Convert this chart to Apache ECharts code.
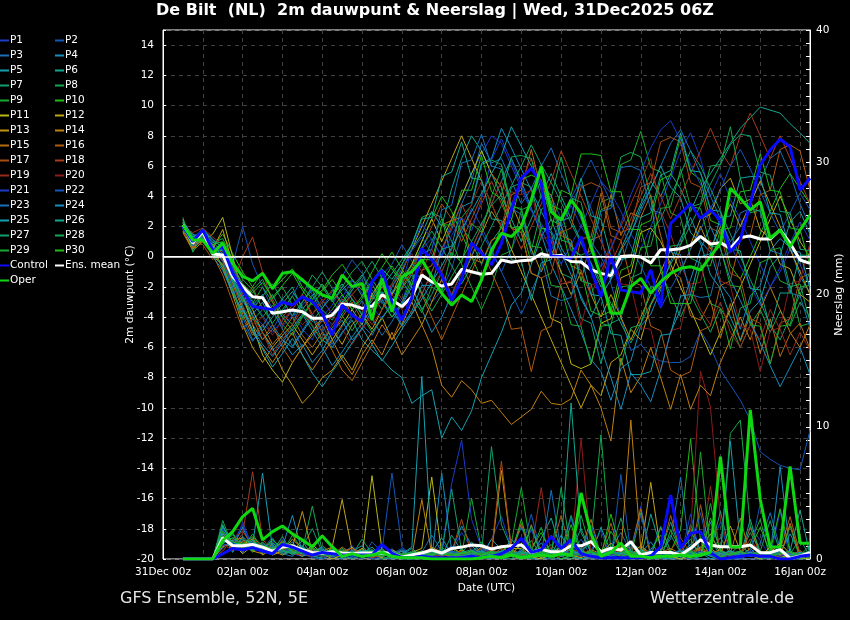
<!DOCTYPE html>
<html><head><meta charset="utf-8">
<script src="https://cdn.jsdelivr.net/npm/echarts@6/dist/echarts.min.js"></script>
<style>html,body{margin:0;padding:0;background:#000;}#chart{width:850px;height:620px;}</style>
</head><body><div id="chart"></div>
<script>
const titleText = 'De Bilt  (NL)  2m dauwpunt & Neerslag | Wed, 31Dec2025 06Z';
const footLeft = 'GFS Ensemble, 52N, 5E';
const footRight = 'Wetterzentrale.de';
const xTickLabels = ['31Dec 00z','02Jan 00z','04Jan 00z','06Jan 00z','08Jan 00z','10Jan 00z','12Jan 00z','14Jan 00z','16Jan 00z'];
const firstHour = 12, stepHours = 6;
const memberNames = ['P1','P2','P3','P4','P5','P6','P7','P8','P9','P10','P11','P12','P13','P14','P15','P16','P17','P18','P19','P20','P21','P22','P23','P24','P25','P26','P27','P28','P29','P30'];
const memberColors = ['#1a3cc8','#1456b8','#1a70b8','#168ec0','#14a0b0','#10a890','#10a070','#12a850','#18aa30','#20bb18',
 '#b8b812','#c0a412','#c09410','#c08010','#b86c10','#b05c10','#a84c14','#a83c1c','#982c1c','#8c1c1c',
 '#1a3cc8','#1456b8','#1a70b8','#168ec0','#14a0b0','#10a890','#10a070','#12a850','#18aa30','#20bb18'];

// ---- 2m dew point (°C), 6-hourly from 31Dec 12Z ----
const meanDew = [2.1,0.9,1.66,0.18,0.11,-1.32,-1.98,-2.65,-2.71,-3.74,-3.64,-3.53,-3.64,-4.07,-4.07,-3.86,-3.13,-3.2,-3.42,-3.27,-2.53,-2.86,-3.3,-2.65,-1.21,-1.65,-1.94,-1.8,-0.83,-0.99,-1.16,
 -1.1,-0.22,-0.37,-0.26,-0.22,0.2,0.02,0.09,-0.31,-0.35,-0.86,-1.1,-1.25,0.02,0.06,-0.02,-0.42,0.46,0.46,0.53,0.75,1.34,0.84,0.93,0.55,1.28,1.37,1.17,1.17,1.77,0.89,-0.22,-0.44];
const controlDew = [2.0,1.0,1.77,0.4,0.66,-1.1,-2.2,-3.3,-3.4,-3.5,-3.0,-3.2,-2.65,-2.97,-3.74,-5.2,-3.2,-3.86,-4.3,-1.65,-0.9,-3.0,-4.2,-2.7,0.55,-0.2,-1.2,-2.9,-1.5,0.9,0.25,
 -0.54,0.89,3.09,5.19,5.85,4.86,0.02,0.02,-0.1,1.33,-0.86,-2.65,0.11,-2.2,-2.31,-2.42,-0.86,-3.31,2.2,2.86,3.52,2.53,3.09,2.43,0.33,1.11,3.52,6.07,7.06,7.77,7.28,4.41,5.19];
const operDew = [2.1,1.1,1.1,0.23,0.9,-0.43,-1.3,-1.6,-1.1,-2.1,-1.1,-1.0,-1.54,-2.09,-2.53,-2.75,-1.21,-1.98,-1.76,-4.19,-1.43,-3.64,-1.32,-0.99,-0.2,-1.32,-2.42,-3.2,-2.53,-2.97,-1.54,
 0.44,1.55,1.33,2.0,3.75,5.96,2.97,2.43,3.75,2.87,0.66,-1.32,-3.74,-3.74,-1.98,-1.43,-2.42,-1.65,-1.1,-0.77,-0.66,-0.88,0.02,0.89,4.53,3.86,3.09,3.64,1.22,1.77,0.66,1.77,2.76];
const p01Dew = [2.2,1.5,1.3,0.6,0.2,-1.5,-3.0,-3.8, -4.5,-5.0,-4.2,-3.6,-4.8,-5.5,-4.0,-3.2, -2.0,-2.8,-3.5,-2.5,-1.5,-2.2,-3.0,-1.0, 0.5,1.2,0.0,2.5,4.0,5.5,6.8,8.0, 7.5,6.0,4.5,3.0,2.2,1.0,-0.5,0.8, 2.0,3.5,5.0,4.2,3.0,1.5,0.5,2.0, 3.5,5.2,7.0,8.2,6.5,4.0,5.5,3.8, 2.5,1.0,-0.5,-2.0,-1.0,0.5,-0.5,-2.0];
const p02Dew = [2.0,1.0,1.8,1.2,0.5,-0.5,2.0,-0.5, -2.0,-3.5,-2.8,-4.0,-3.2,-2.5,-3.8,-4.5, -3.6,-2.2,-1.5,-2.8,-1.2,-0.5,0.8,-0.3, -1.8,-3.0,-2.2,-0.8,1.5,3.2,2.0,0.5, -1.0,0.5,2.0,3.8,5.0,4.0,2.5,3.5, 4.8,3.2,1.5,-1.8,-4.0,-6.2,-5.8,-6.6, -6.9,-7.0,-7.0,-6.6,-4.9,-6.0,-7.5,-8.5, -9.5,-10.8,-12.9,-13.4,-13.8,-14.0,-14.1,-11.5];
const p03Dew = [2.4,1.2,1.0,0.2,-0.5,-2.0,-4.0,-5.5, -5.0,-6.2,-5.5,-4.8,-6.0,-5.2,-4.5,-5.8, -4.6,-3.8,-4.5,-5.2,-4.0,-3.2,-4.5,-3.8, -2.5,-1.0,0.5,1.8,3.5,5.0,7.5,6.2, 6.5,5.0,3.5,4.5,6.0,7.2,5.5,4.0, 2.5,1.0,0.0,-1.5,-0.5,1.5,3.0,4.5, 6.0,7.5,8.4,7.0,5.5,4.0,2.5,1.0, 2.0,3.5,5.0,6.5,7.0,5.5,3.5,2.0];
const p04Dew = [1.8,0.8,1.5,0.8,0.0,-1.2,-2.5,-3.8, -3.0,-4.5,-5.5,-6.5,-5.8,-7.0,-6.2,-5.0, -4.2,-5.5,-4.8,-3.5,-2.8,-4.0,-3.2,-2.0, -3.5,-5.0,-4.0,-2.5,-1.0,0.5,2.0,3.5, 5.0,6.5,5.0,3.2,1.5,-0.5,-2.0,-3.5, -5.0,-6.8,-7.6,-9.5,-7.4,-6.9,-4.6,-3.8, -2.2,-0.3,1.2,2.6,1.0,0.3,-1.8,-2.7, -4.8,-2.6,-1.9,0.4,1.2,0.6,-1.3,-2.4];
const p05Dew = [2.1,1.0,1.6,0.5,-0.8,-2.5,-3.5,-4.5, -5.5,-4.8,-5.5,-6.0,-5.0,-4.0,-5.5,-6.0, -5.0,-4.2,-5.5,-6.2,-6.8,-7.5,-8.0,-9.7, -9.2,-8.8,-12.0,-10.6,-11.5,-10.2,-8.0,-6.5, -5.0,-3.2,-2.4,-0.5,1.3,2.5,0.6,-0.5, -2.8,-4.0,-2.6,-1.5,0.4,1.5,3.3,4.5, 6.0,4.6,3.9,1.6,0.9,-1.2,-2.1,-4.0, -5.5,-3.6,-2.9,-0.7,0.1,2.3,3.0,1.5];
const p06Dew = [2.3,1.4,1.2,0.4,0.8,-0.8,-2.0,-3.2, -2.5,-3.8,-2.8,-2.0,-3.5,-2.6,-1.8,-2.9, -2.2,-1.5,-2.6,-1.8,-0.8,-1.5,-0.5,0.5, 1.5,3.0,2.0,4.5,6.5,8.0,7.0,5.5, 4.0,2.5,1.0,2.5,4.0,5.5,4.0,2.5, 1.0,-0.5,-2.0,-1.0,0.5,2.0,3.5,5.0, 4.0,5.5,4.5,3.0,4.5,5.5,6.5,7.5, 8.5,9.2,9.9,9.7,9.5,8.8,8.2,7.5];
const p07Dew = [1.9,0.6,1.4,1.0,0.2,-1.5,-2.8,-4.2, -3.5,-2.5,-3.8,-4.5,-3.0,-2.2,-3.5,-4.2, -3.0,-2.0,-1.2,-2.5,-3.5,-2.0,-1.0,-2.0, -3.5,-2.5,-1.0,0.5,2.0,1.0,-0.5,1.0, 1.9,4.6,4.9,4.6,1.9,1.6,-1.1,-1.4, -4.1,-4.4,-7.1,-4.4,-4.1,-1.4,-1.1,1.6, 2.5,4.0,5.5,7.0,6.0,4.5,3.0,1.5, 0.0,-1.5,-3.0,-4.5,-5.5,-4.0,-2.5,-1.0];
const p08Dew = [2.0,1.1,1.9,0.9,1.2,-0.2,-1.5,-2.2, -1.5,-2.8,-2.0,-3.2,-2.5,-1.2,-2.0,-3.0, -2.0,-1.0,-0.3,-1.5,-2.5,-1.8,-0.5,0.8, 2.6,2.9,2.6,-0.1,2.6,3.4,6.1,6.4, 6.1,3.4,3.1,0.4,3.1,3.9,6.6,3.9, 3.6,0.9,3.6,3.9,6.6,6.9,6.6,3.9, -1.0,-2.5,-4.0,-2.5,-3.8,-5.0,-3.4,-4.5, -6.0,-4.5,-3.5,-5.0,-3.6,-4.6,-3.0,-4.0];
const p09Dew = [2.2,1.3,1.7,0.3,0.5,-1.0,-2.0,-3.0, -4.0,-3.2,-4.5,-5.2,-4.0,-3.0,-4.2,-3.5, -2.5,-3.5,-2.8,-1.8,-3.0,-4.0,-3.0,-1.5, -0.5,1.0,2.5,1.0,-0.5,-2.0,-3.5,-2.0, 0.1,0.4,3.1,3.4,6.1,3.4,3.1,0.4, 0.1,0.4,3.1,3.4,6.1,6.4,8.3,5.9, 5.6,2.9,2.6,-0.1,-0.4,-3.1,-3.4,-6.1, -3.4,-3.1,-0.4,-0.1,-1.6,-1.9,-4.6,-4.4];
const p10Dew = [2.0,0.9,1.5,0.7,1.5,0.2,-1.0,-2.0, -1.0,-2.2,-1.5,-0.8,-2.0,-2.8,-2.2,-1.2, -0.5,-1.5,-2.2,-1.0,0.2,-0.8,-1.8,-0.5, 1.0,2.5,4.0,3.0,1.5,0.0,-1.5,0.0, 2.1,2.4,5.1,5.4,5.1,2.4,2.1,-0.6, -0.9,-3.6,-3.9,-3.6,-0.9,-0.6,2.1,2.4, 5.1,5.4,7.9,5.6,5.1,2.4,2.1,-0.6, -1.5,0.0,1.5,3.0,4.5,5.5,4.5,3.5];
const p11Dew = [2.0,0.8,1.0,1.5,2.6,0.0,-2.5,-4.5, -6.5,-7.5,-8.3,-7.0,-6.0,-5.0,-4.0,-5.5, -4.5,-3.5,-4.5,-2.5,-1.5,-2.5,-1.5,-0.5, 1.0,2.5,1.0,2.5,4.0,5.5,7.0,5.5, 4.6,1.9,1.6,-1.1,-1.4,-4.1,-4.4,-7.1, -7.4,-7.1,-4.4,-4.1,-1.4,-1.1,1.6,1.9, 1.0,-0.5,-2.0,-3.5,-5.0,-6.5,-5.0,-3.5, -2.0,-0.5,1.0,2.5,4.0,2.5,1.0,0.0];
const p12Dew = [1.7,0.5,1.2,0.5,1.8,-0.5,-2.0,-3.5, -5.0,-6.0,-5.2,-4.5,-5.5,-6.5,-5.5,-4.8, -5.8,-4.5,-3.8,-4.8,-3.5,-2.5,-1.0,0.5, 2.0,3.5,5.0,6.5,8.0,6.5,5.0,3.5, 2.0,0.5,-1.0,-2.5,-4.0,-5.5,-7.0,-8.5, -10.0,-8.5,-9.2,-7.0,-6.5,-4.8,-5.5,-3.2, -2.0,-1.2,0.5,0.8,2.5,2.8,4.5,5.2, 3.5,3.8,1.8,1.2,-0.5,-0.8,-2.5,-3.0];
const p13Dew = [2.5,0.6,1.5,0.0,-0.5,-2.5,-4.5,-6.0, -7.0,-6.0,-7.5,-8.5,-9.7,-9.0,-8.0,-7.5, -6.5,-7.5,-6.0,-5.0,-4.0,-5.5,-4.5,-3.0, -4.5,-3.0,-1.5,-3.0,-1.5,0.0,1.5,3.0, 2.0,3.5,2.0,0.5,-1.0,0.5,-1.0,-2.5, -1.0,-2.5,-4.0,-2.5,-4.0,-5.5,-4.0,-2.5, -1.0,0.5,-1.0,0.5,2.0,0.5,2.0,3.5, 2.0,3.5,5.0,3.5,2.0,0.5,-1.0,-2.5];
const p14Dew = [1.6,0.4,1.0,0.3,-0.2,-1.8,-3.5,-5.0, -6.0,-7.0,-6.0,-5.0,-6.5,-7.5,-6.5,-5.5, -6.8,-7.8,-6.5,-5.5,-6.5,-5.0,-6.5,-5.5, -4.5,-6.0,-8.5,-9.3,-8.2,-8.8,-9.7,-9.5, -10.3,-11.1,-10.6,-10.1,-8.9,-9.7,-9.8,-9.4, -7.5,-8.5,-10.0,-12.2,-6.7,-9.0,-7.9,-6.0, -8.0,-10.1,-7.8,-10.1,-8.5,-9.2,-7.0,-5.5, -4.0,-5.5,-3.5,-2.0,-3.5,-5.0,-6.0,-4.5];
const p15Dew = [2.3,0.5,1.4,0.8,-0.8,-2.2,-3.8,-5.2, -4.5,-5.8,-5.0,-4.0,-5.2,-6.0,-5.0,-6.2, -7.5,-8.2,-7.0,-5.8,-4.5,-5.5,-4.0,-3.0, -0.9,-0.6,2.1,2.4,2.6,-0.1,-0.4,1.1, 1.4,4.1,4.4,7.1,4.4,4.1,1.4,1.1, -1.6,1.1,1.4,4.1,1.4,2.9,2.6,4.1, 1.4,-0.9,-1.4,-3.9,-4.2,-2.9,-5.4,-3.1, -5.6,-3.9,-6.4,-4.1,-6.6,-5.1,-4.4,-6.1];
const p16Dew = [1.9,0.7,1.1,0.1,-1.2,-3.0,-4.8,-4.0, -5.5,-4.5,-6.0,-7.0,-6.0,-5.2,-4.2,-5.0, -4.0,-3.0,-4.2,-3.5,-2.5,-3.5,-2.0,-1.0, -2.5,-4.0,-5.5,-4.0,-2.5,-1.0,0.5,-1.0, -2.5,-4.8,-4.7,-7.6,-4.9,-4.6,-1.8,-1.7, 1.2,1.3,4.2,1.4,1.1,-1.6,-1.9,-4.6, -4.9,-7.5,-7.9,-7.6,-4.9,-4.6,-1.9,-1.6, 1.1,1.4,4.1,4.4,7.1,7.4,7.0,4.4];
const p17Dew = [2.1,0.9,0.8,-0.2,0.5,-1.0,-3.0,-2.0, -3.5,-2.8,-4.0,-3.2,-2.5,-3.8,-3.0,-2.2, -3.2,-2.5,-1.8,-2.8,-2.0,-3.0,-1.8,-0.8, 0.5,2.0,3.5,2.5,1.0,2.5,4.0,5.5, 4.6,1.9,1.6,-1.1,-1.4,-1.1,1.6,1.9, 4.6,4.9,4.6,1.9,1.6,1.9,4.6,4.9, 7.6,7.9,7.6,4.9,4.6,1.9,1.6,-1.1, -1.4,-4.1,-4.4,-7.1,-4.4,-4.1,-1.4,-1.1];
const p18Dew = [1.5,1.2,1.6,0.6,-0.3,-1.8,0.0,1.3, -1.0,-3.0,-4.5,-3.5,-2.5,-4.0,-5.0,-3.8, -2.8,-3.8,-4.8,-3.8,-2.8,-1.8,-2.8,-3.8, -2.5,-1.0,0.5,2.0,3.5,2.0,3.5,5.0, 3.5,2.0,0.5,2.0,3.5,5.0,7.0,5.5, 4.0,2.5,1.0,-0.5,1.0,2.5,4.0,5.5, 4.0,2.5,4.0,5.5,7.0,8.5,7.0,6.0, 8.0,9.5,8.0,6.5,8.0,6.5,5.0,3.5];
const p19Dew = [2.0,1.6,1.9,1.3,0.8,-0.5,-2.5,-4.0, -5.0,-6.5,-5.5,-4.5,-3.5,-4.5,-5.5,-4.5, -3.5,-2.5,-3.5,-4.5,-3.5,-2.5,-3.5,-2.5, -1.0,0.5,-1.0,-2.5,-1.0,0.5,2.0,3.5, 5.0,3.5,5.0,6.5,5.0,3.5,2.0,0.5, -1.0,-2.5,-1.0,0.5,2.0,3.5,5.0,6.5, 3.0,1.5,-0.5,-2.0,-3.5,-4.5,-3.0,-5.0, -6.0,-4.5,-5.5,-3.5,-4.8,-6.5,-5.0,-6.2];
const p20Dew = [1.8,1.0,1.3,0.4,0.0,-2.0,-3.2,-4.5, -4.0,-5.2,-4.2,-3.5,-4.5,-3.8,-2.8,-3.8, -4.8,-5.8,-4.8,-3.8,-2.8,-1.8,-0.8,0.2, -1.0,-2.0,-1.0,0.5,2.0,3.5,5.0,3.5, 2.0,4.3,4.1,4.4,1.2,1.3,-1.8,-1.6, -4.6,-1.9,-1.6,1.2,-1.8,-1.9,-4.7,-4.8, -7.6,-4.9,-4.7,-1.8,-1.7,1.1,-1.6,-1.9, -4.6,-4.8,-7.6,-4.9,-4.7,-1.8,-1.6,0.9];
const p21Dew = [2.2,1.4,1.5,0.9,0.4,-1.2,-2.6,-3.4, -2.6,-3.6,-4.6,-3.9,-3.0,-2.0,-2.9,-3.8, -2.7,-1.6,-2.4,-3.3,-4.1,-3.0,-1.9,0.6, 2.2,1.1,0.0,1.4,2.6,1.7,3.8,6.4, 7.8,6.3,4.7,3.1,1.8,0.4,1.9,3.4, 2.0,0.9,-0.7,0.6,2.2,4.1,5.6,7.2, 8.4,9.0,7.7,6.1,4.8,3.3,2.1,0.8, -0.6,-1.9,-3.2,-2.0,-0.7,0.9,2.3,1.1];
const p22Dew = [2.0,1.2,1.7,1.0,0.9,-0.8,-1.9,-2.9, -3.9,-4.8,-3.7,-2.6,-1.4,-2.5,-3.4,-2.3, -1.3,-0.2,-1.1,-2.2,-3.1,-2.0,-0.8,0.4, 1.3,0.2,-1.2,-2.6,-1.4,0.1,1.6,0.4, -1.0,-2.4,-3.8,-2.3,-0.8,0.9,2.4,3.9, 5.1,6.4,5.0,3.6,2.1,0.7,-0.6,-2.0, -3.4,-2.1,-0.9,0.5,1.8,3.2,4.4,6.0, 7.1,5.8,4.3,2.9,1.6,2.9,4.2,3.1];
const p23Dew = [1.9,0.7,1.2,0.5,-0.3,-2.0,-4.4,-5.6, -4.6,-3.5,-4.8,-5.9,-4.9,-3.8,-4.9,-6.0, -5.1,-4.0,-2.9,-4.1,-5.2,-4.3,-3.1,-1.8, 0.2,0.5,3.1,3.4,6.2,6.4,8.1,6.0, 5.8,3.2,2.8,0.2,0.0,-2.6,-2.9,-2.7, -0.1,0.2,3.0,3.2,5.9,6.0,5.7,3.1, 2.9,0.3,0.1,-2.5,-2.7,-2.6,0.0,0.3, 2.9,3.2,3.0,0.4,0.2,-2.4,-2.6,-4.7];
const p24Dew = [2.1,1.0,1.3,0.0,-0.9,-2.4,-3.6,-4.8, -5.8,-6.6,-5.7,-4.7,-3.8,-4.9,-6.0,-7.2, -6.3,-5.3,-4.4,-3.4,-2.3,-3.5,-4.6,-3.6, -1.9,-1.9,0.5,0.7,3.3,3.6,6.2,6.5, 8.5,7.2,5.8,4.4,3.0,1.7,0.3,-1.2, -2.6,-4.0,-6.0,-8.0,-10.1,-7.7,-8.5,-9.6, -7.5,-5.0,-3.5,-1.5,0.5,2.0,0.5,-1.5, -2.9,-4.3,-5.7,-7.2,-8.6,-7.3,-6.0,-7.8];
const p25Dew = [2.4,1.3,1.6,0.7,0.0,-1.6,-3.3,-4.9, -6.1,-7.3,-6.4,-5.4,-6.5,-7.7,-8.6,-7.6, -6.7,-5.7,-4.7,-5.8,-6.9,-5.9,-4.8,-3.8, -2.8,-1.7,-0.6,0.6,1.8,3.0,4.2,5.5, 6.7,8.6,7.3,6.0,4.6,3.3,2.0,0.7, 0.0,-2.5,-2.6,-5.1,-5.2,-7.8,-7.8,-7.6, -5.2,-5.1,-2.6,-2.5,0.0,0.2,2.6,2.7, 5.2,5.3,5.3,2.9,2.8,0.4,0.3,-2.1];
const p26Dew = [1.8,0.9,1.4,0.6,0.4,-1.4,-2.7,-3.9, -4.9,-4.0,-3.1,-2.3,-3.3,-4.3,-3.4,-2.6, -1.8,-2.8,-3.8,-2.9,-2.0,-1.1,-0.2,0.8, 2.5,2.6,5.3,5.6,7.6,5.2,5.1,2.5, 2.4,-0.2,-0.3,-2.9,-0.4,-0.2,2.4,2.6, 5.2,2.7,2.5,0.0,-0.2,0.0,2.6,2.9, 5.4,5.7,8.2,5.7,5.6,3.1,3.0,0.5, 0.4,-2.1,-2.2,-4.7,-2.4,-2.4,0.1,0.1];
const p27Dew = [2.2,1.0,1.8,1.1,0.6,-1.0,-2.3,-3.5, -2.6,-1.8,-2.9,-3.9,-3.0,-2.0,-1.0,-2.1, -3.1,-2.2,-1.3,-0.3,-1.4,-2.4,-1.5,-0.6, 0.6,1.7,0.6,-0.6,-1.8,-0.6,0.7,2.0, 3.4,4.7,6.0,7.4,6.1,4.9,3.6,2.2, 0.9,-0.4,-1.7,-3.1,-4.4,-5.7,-4.4,-3.1, -1.8,-0.5,0.8,2.1,3.4,4.8,6.1,7.4, 8.1,8.0,5.6,5.4,3.0,2.9,0.5,0.4];
const p28Dew = [2.6,0.3,1.5,0.4,0.1,-1.7,-3.0,-2.2, -3.4,-4.4,-3.5,-2.6,-3.7,-4.6,-5.6,-4.7, -3.8,-2.8,-3.9,-5.0,-4.1,-3.1,-2.1,-1.2, -2.4,-3.6,-2.5,-1.3,-0.2,1.0,2.2,3.4, 4.1,6.6,6.7,6.5,3.9,3.7,1.1,0.9, -1.6,-1.8,-4.4,-4.6,-7.2,-4.7,-4.5,-2.0, -1.8,0.7,0.8,3.3,3.5,6.0,6.1,8.6, 5.2,2.9,3.1,0.4,0.6,-2.0,-1.8,-4.3];
const p29Dew = [2.0,1.5,1.0,0.2,-0.6,-2.2,-4.1,-3.1, -2.0,-3.0,-4.0,-4.9,-3.9,-2.9,-1.8,-2.9, -3.9,-4.9,-3.8,-2.7,-1.7,-0.6,-1.6,-2.6, -3.7,-2.0,-2.4,0.3,-0.4,2.2,1.6,4.0, 5.8,3.3,3.2,0.7,0.6,-1.9,-2.0,-4.5, -4.6,-7.1,-4.6,-4.5,-2.0,-1.9,0.6,0.7, 3.2,3.3,5.8,3.3,3.2,0.7,0.6,-1.9, -2.0,-4.5,-4.6,-7.1,-4.6,-4.5,-2.0,-1.9];
const p30Dew = [2.1,1.1,1.4,0.8,1.0,-0.6,-1.8,-2.4, -1.7,-2.7,-1.9,-1.1,-2.2,-3.2,-2.3,-1.5, -2.5,-3.5,-2.6,-1.6,-0.7,0.3,-0.8,-1.9, -0.2,-0.2,2.1,2.1,4.4,4.4,6.7,4.3, 3.8,1.9,2.0,-0.4,1.9,1.8,4.4,4.1, 6.8,6.8,6.7,4.3,4.3,1.8,1.8,-0.6, -0.6,-3.1,-3.1,-3.1,-0.6,-0.6,1.8,1.9, 4.3,4.4,6.8,4.4,4.3,1.9,1.8,-0.6];

// ---- 6-hourly precipitation (mm) ----
const meanPrecip = [0,0,0,0,1.6,1.0,1.0,1.1,0.9,0.6,0.9,1.0,0.7,0.5,0.45,0.55,0.45,0.42,0.45,0.45,0.48,0.45,0.13,0.3,0.45,0.68,0.45,0.8,0.9,
 1.06,1.0,0.76,0.93,1.0,1.06,0.48,0.73,0.55,0.55,1.0,1.0,1.31,0.55,0.81,0.68,1.31,0.3,0.5,0.5,0.5,0.3,0.81,1.44,1.06,0.93,0.93,0.93,1.06,0.48,0.48,0.73,0.05,0.23,0.48];
const controlPrecip = [0,0,0,0,0.4,0.8,0.7,0.86, 0.6,0.4,1.1,0.9,0.6,0.3,0.5,0.4, 0.3,0.3,0.3,0.3,1.1,0.45,0.1,0.1, 0.2,0.1,0.1,0.1,0.1,0.2,0.1,0.2, 0.4,0.8,1.56,0.5,0.7,1.69,0.81,1.44, 0.4,0.2,0.1,0.1,0.1,0.1,0.1,0.2, 0.93,4.84,0.81,1.94,2.07,0.48,0,0.1, 0.2,0.3,0.2,0.2,0,0,0.2,0.3];
const operPrecip = [0,0,0,0,1.4,2.07,3.2,3.83, 1.44,2.07,2.5,1.9,1.44,0.93,1.74,0.93, 0.2,0.4,0.2,0.3,0.5,0.2,0.1,0.1, 0.1,0,0,0,0,0,0.1,0.2, 0.1,0.3,0.1,0.2,0.3,0.2,0.4,0.3, 5.0,1.9,0.2,0.5,1.2,0.2,0.2,0.1, 0.2,0.2,0.3,0.2,0.3,0.5,7.74,0.93, 0.9,11.27,4.5,0.9,0.9,7.0,1.2,1.2];
const p01Precip = [0,0,0,0,1.2,0.6,2.8,0.9, 0.5,0.8,1.5,0.4,0.2,0.6,0.3,0.1, 0.4,1.0,0.3,0,0.2,0.8,0.1,0, 0,0.3,1.2,0.5,2.0,0.8,0.2,1.5, 3.2,0.8,2.6,0,0.5,1.8,0.4,3.1, 0.2,0.6,2.2,0,1.2,0.3,4.0,0.4, 2.5,0.6,0.1,3.4,0.3,1.0,2.8,0, 0,2.5,1.4,0.2,3.6,0,0.3,0.1];
const p02Precip = [0,0,0,0,0.8,1.5,0.9,1.1, 0.6,0.3,1.0,0.8,0.4,0.1,0,0.3, 0.6,0.2,0,1.3,0.5,0.4,0.8,0.1, 0,0,0.4,1.0,0.3,0,0.2,0.6, 0.1,0,0.8,2.2,0.5,0,0,0.3, 1.5,0.2,0,0,6.4,0.4,0.1,0, 0,0,0.2,0,0,0,0.1,0, 0,0,0,0.1,0,0,0,0];
const p03Precip = [0,0,0,0,2.2,1.0,0.5,1.4, 0.8,1.6,0.4,0.2,0.9,0.3,0,0.5, 0.2,0.1,0.6,0,0,0.3,0,0.1, 0.5,1.8,0.6,0.2,0,0.4,1.1,0.3, 0,0.6,2.4,0.8,0.1,0,0.5,1.2, 0.3,0,0,0.8,2.0,0.5,0.1,0, 0.6,1.5,6.2,0,0.2,2.8,0.7,0.1, 0,0.4,1.2,3.5,0.8,0.2,0,0.5];
const p04Precip = [0,0,0,0,1.6,0.9,2.4,0.7, 1.1,0.4,0.6,1.3,0.2,0.5,0.8,0.2, 0,0.4,0.2,0.7,0.1,0,0.2,0.5, 0.3,0,6.5,0.6,2.5,1.0,0.3,0, 0.4,1.5,0.6,0,0,0.3,1.8,0.5, 0,0.2,0.7,0,0,0,0.4,1.3, 0.2,0,0,0.5,1.6,0.3,0,0, 0.2,0.8,0.1,0,0.5,1.9,0.4,0];
const p05Precip = [0,0,0,0,1.9,1.3,1.0,0.6, 0.9,0.4,1.2,0.5,0.3,0.8,0.2,0.4, 0.1,0.6,1.0,0.2,0.5,0,0.3,0.8, 0.2,0.5,1.6,0.4,0,0.6,0.2,1.5, 0.7,0.3,0,0.5,1.2,0.4,0,0.2, 0.6,1.4,0.5,0.1,0,0.3,0.6,0.2, 0.1,0,0.4,1.1,0.5,0,0.3,8.9, 1.2,0.3,0,0.2,0.6,0.1,0,0.3];
const p06Precip = [0,0,0,0,2.6,0.8,0.6,1.6, 0.4,1.1,0.3,0.6,1.4,0.2,0.1,0.7, 0.3,0,0.4,0.9,0.2,0.5,0,0, 0.1,0.3,0,0.2,0.5,1.3,0.4,0.2, 0,0.5,0.3,0,1.6,3.1,0.6,0.2, 0,0.3,2.4,0.5,0.2,0,0,3.4, 0.9,0.2,0,2.6,0.6,1.4,0.3,0, 0.2,3.0,0.3,0.8,0.2,0,0.1,0.5];
const p07Precip = [0,0,0,0,1.4,1.8,1.2,0.8, 1.0,0.6,1.7,0.4,0.9,2.3,0.5,0.2, 0.8,0.3,1.5,0.4,0.1,0.6,0.2,0, 0.3,0.8,0.2,1.8,0.6,0,0.4,8.5, 2.6,0.8,0.3,0,0.5,1.1,0.2,0.6, 2.3,0.5,0.2,0,0.4,1.1,0.8,0.3, 0.2,1.8,0.5,0,0.2,0.6,1.6,0.4, 0.3,2.0,0.6,0.1,0,0.4,1.5,0.2];
const p08Precip = [0,0,0,0,1.1,2.0,0.7,1.3, 0.6,0.9,0.5,1.8,0.7,4.0,0.6,0.3, 0.2,0.5,0.1,0.3,0.8,0.2,0,0.4, 0.6,0.2,0.9,0.3,0.1,0.5,1.3,0.4, 0.2,0,0.6,1.4,0.3,0.8,0.2,0, 0.5,1.3,9.4,0.6,0.2,0,0.3,0.7, 1.8,0.4,0,0.3,0.9,0.2,0,0.4, 1.1,0.3,0,0.2,0.7,0,0.3,1.0];
const p09Precip = [0,0,0,0,2.4,1.1,0.8,1.9, 0.7,1.4,0.9,0.3,0.6,0.2,1.0,0.4, 0.1,0.7,0.3,0.5,0,0.2,0.6,0.1, 0,0.4,0.2,0.8,0.3,4.6,0.7,0.2, 0.5,1.2,5.4,0.6,2.4,0,0.4,1.0, 3.3,0.6,0.1,2.1,0.8,0.2,3.5,0.3, 0,2.2,0.7,1.5,0.3,4.2,0.6,0.2, 0.4,1.2,3.0,0,0.2,2.5,0,0.1];
const p10Precip = [0,0,0,0,1.3,1.6,1.5,0.5, 1.3,0.5,0.8,1.1,0.4,0.9,0.3,0.6, 0.5,0.2,0.8,0.1,0.4,0.3,0,0.2, 0.4,0.1,0.5,0.2,0.7,0.3,0,0.6, 1.0,0.3,0.1,0.8,2.0,0.4,0,0.3, 0.7,0.2,0.4,1.2,0.3,0,0.2,0.5, 0.3,0.6,2.2,9.1,1.4,0.3,0.1,0.5, 0.2,0.8,2.4,0.5,0.1,0.3,0.6,0.2];
const p11Precip = [0,0,0,0,2.0,0.7,1.1,1.5, 0.3,0.8,1.2,0.6,0.2,1.1,0.4,0, 0.3,0.9,0.2,6.3,0.7,0.1,0.3,0.5, 0.8,6.2,0.4,0.1,0.3,0.6,0.2,0.5, 0.3,0.8,0.8,0.2,0,0.4,0.9,0.3, 0.1,0.5,0.2,0.6,1.1,0.3,0,0.2, 0.4,0.1,0.6,0.3,0.8,1.9,0.4,0.2, 0.6,0.3,0,0.5,1.2,0.4,0.1,0];
const p12Precip = [0,0,0,0,1.7,1.2,0.4,1.0, 0.9,0.3,0.6,1.5,0.8,0.4,0.2,0.9, 4.5,0.6,0.2,0.4,0.1,0.7,0.3,0, 0.2,0.6,0.3,0.9,0.4,0.1,0.5,0.2, 0.6,0.3,1.2,0.4,0.1,0.6,0.3,0.8, 0.2,0.4,0.1,0.3,0.9,0.2,0.5,5.8, 0.6,0.2,0,0.4,0.7,0.3,0.2,0.5, 0.3,0.6,0.2,0.9,0.3,0,0.4,0.2];
const p13Precip = [0,0,0,0,0.9,1.4,1.6,0.6, 0.4,1.2,0.7,0.9,3.6,0.5,0.3,0.2, 0.6,0.4,0.8,0.3,0.5,0.2,0.1,0.4, 0.3,0.9,0.5,0.2,0.7,0.3,0.9,0.4, 6.7,0.7,0.3,0.5,0.8,0.2,0.4,1.3, 0.3,0.1,0.5,0.2,0.6,0.3,1.0,0.4, 0.2,0.5,0.3,0.1,0.4,0.8,0.3,2.5, 0.6,0.2,0.4,0.1,0.3,0.5,0.2,0.4];
const p14Precip = [0,0,0,0,1.5,0.9,1.3,0.7, 1.0,0.6,0.3,0.8,0.5,0.2,0.6,0.9, 0.3,0.5,0.2,0.4,0.7,0.1,0.3,0.2, 4.5,0.4,0.2,0.6,0.3,0.5,0.2,0.7, 0.4,0.2,0.6,0.3,0.9,0.4,0.2,0.5, 0.3,0.7,0.4,1.2,0.5,10.5,0.8,0.4, 0.6,0.3,0.2,0.5,0.9,0.4,0.7,0.3, 0.2,0.5,0.3,0.6,0.2,0.4,0.3,0.2];
const p15Precip = [0,0,0,0,1.0,1.1,0.8,1.2, 0.5,0.7,1.4,0.5,0.3,0.7,0.4,0.3, 0.9,0.4,0.6,0.2,0.3,0.5,0.2,0.1, 0.4,0.3,0.7,0.2,0.5,0.4,0.1,0.3, 0.8,0.5,0.2,2.6,0.3,0.5,0.2,0.4, 0.6,3.0,0.2,0.5,0.4,0.7,3.8,0.2, 0.5,0.8,0.4,2.3,0.3,0.6,0.2,0.4, 3.1,0.2,0.5,0.3,0.1,2.7,0.2,0.3];
const p16Precip = [0,0,0,0,1.8,0.6,1.4,0.8, 0.7,0.4,0.9,0.6,0.5,0.8,0.2,0.4, 0.6,0.8,0.3,0.5,0.2,0.4,0.6,0.3, 0.2,0.5,0.3,0.4,0.6,0.2,0.8,0.4, 0.5,0.3,2.7,0.2,0.4,0.6,3.3,0.5, 0.8,0.2,0.4,2.7,0.3,0.5,0.6,0.2, 0.4,3.3,0.6,0.2,4.1,0.4,0.3,0.6, 0.2,2.4,0.3,0.5,0.7,3.2,0.4,0.3];
const p17Precip = [0,0,0,0,0.6,1.5,2.1,1.0, 0.8,0.5,1.0,0.7,0.4,0.2,0.5,0.3, 0.2,0.6,0.4,0.1,0.3,0.5,0.2,0.4, 0.6,0.2,0.3,0.5,3.0,0.4,0.2,0.6, 7.4,0.8,0.3,0.5,0.2,0.6,0.4,0.3, 0.5,0.2,0.4,0.3,0.6,0.9,0.4,0.2, 0.3,0.7,1.6,0.4,0.2,0.5,0.3,0.6, 0.4,0.2,0.3,0.6,0.2,0.4,0.3,0.5];
const p18Precip = [0,0,0,0,1.4,1.0,1.9,6.6, 1.5,0.6,0.8,0.4,0.3,0.6,0.2,0.5, 0.4,0.2,0.7,0.3,0.5,0.2,0.4,0.1, 0.3,0.6,0.2,0.4,0.2,0.3,0.5,0.2, 0.4,0.3,0.6,0.2,0.5,0.3,0.8,0.4, 0.2,0.5,0.3,0.7,0.4,0.2,0.6,0.3, 0.5,0.2,0.4,0.3,0.8,0.5,0.3,0.6, 0.3,1.5,0.4,0.2,0.5,0.3,0.6,0.2];
const p19Precip = [0,0,0,0,1.6,0.8,1.2,1.6, 0.9,0.7,0.5,1.0,0.4,0.6,0.3,0.2, 0.5,0.3,0.6,0.4,0.2,0.5,0.3,0.2, 0.4,0.3,0.5,0.2,0.6,0.3,0.4,0.7, 0.3,0.5,0.4,0.6,5.4,0.3,0.2,0.5, 0.4,0.6,0.3,0.2,0.5,0.3,0.4,0.6, 0.3,0.2,0.5,0.4,0.6,5.5,0.3,0.2, 0.5,0.3,0.6,0.4,0.2,0.5,0.3,0.4];
const p20Precip = [0,0,0,0,1.1,0.7,0.9,1.3, 0.6,0.9,0.4,0.7,0.3,0.5,0.2,0.4, 0.3,0.5,0.2,0.4,0.6,0.3,0.2,0.5, 0.3,0.2,0.4,0.6,0.3,0.5,0.2,0.4, 0.6,0.3,0.5,0.2,0.4,0.3,0.6,0.5, 9.1,0.6,0.3,0.5,0.2,0.4,0.3,0.6, 0.2,0.5,0.4,2.0,14.2,11.5,3.0,0.4, 0.3,0.6,0.2,0.4,0.5,0.3,0.2,0.4];
const p21Precip = [0,0,0,0,2.3,1.2,2.6,0.8, 0.5,1.3,0.6,0.9,0.4,0.3,0.7,0.2, 0.5,0.4,0.2,0.6,0.3,0.5,0.2,0.4, 0.3,0.2,0.6,5.7,9.0,3.0,0.8,0.5, 0.5,0.3,0.6,0.2,0.4,0.7,0.3,0.5, 0.2,0.4,0.6,0.3,0.5,0.2,0.4,0.6, 0.3,0.5,0.2,0.4,0.6,0.3,0.5,0.2, 0.4,0.6,0.3,0.5,0.2,0.4,0.3,0.5];
const p22Precip = [0,0,0,0,1.0,1.3,0.6,1.2, 0.8,0.5,1.1,0.3,0.6,0.4,0.2,0.5, 0.3,0.7,0.2,0.4,0.6,6.5,0.9,0.3, 0.2,0.5,0.3,0.6,0.2,0.4,0.7,0.3, 0.5,0.2,0.6,3.4,0.3,0.7,0.2,0.5, 0.4,2.6,0.3,0.2,0.5,0.8,3.3,0.6, 0.2,0.4,0.7,0.3,3.5,0.2,0.6,0.4, 0.3,0.5,4.2,0.6,0.4,0.3,0.5,0.2];
const p23Precip = [0,0,0,0,2.0,0.9,1.5,1.1, 0.7,1.0,0.5,0.8,0.3,0.6,0.9,0.2, 0.4,0.3,0.6,0.2,0.5,0.3,0.7,0.4, 0.2,0.5,0.3,0.6,0.4,0.2,0.5,0.3, 0.6,0.4,0.2,0.5,0.3,5.2,0.6,0.4, 0.3,0.5,0.2,0.6,0.4,0.3,0.7,0.2, 0.5,0.3,0.6,0.4,0.2,0.5,0.3,0.6, 0.4,0.2,0.5,0.3,0.6,0.4,0.2,0.3];
const p24Precip = [0,0,0,0,1.3,1.4,0.8,0.9, 1.2,0.6,0.9,3.3,0.5,0.3,0.7,0.4, 0.2,0.6,0.3,0.5,0.4,0.2,0.6,0.3, 0.5,0.3,0.7,0.2,0.4,0.6,0.3,0.5, 0.2,0.4,0.6,0.3,0.5,0.2,0.4,0.7, 0.3,0.5,0.2,0.6,0.4,0.3,0.5,0.2, 0.6,0.4,0.3,0.5,0.2,0.6,0.4,0.3, 0.5,0.2,0.4,0.3,7.0,0.5,0.3,0.4];
const p25Precip = [0,0,0,0,1.8,0.5,1.7,1.0, 6.5,0.8,0.6,0.4,0.9,0.3,0.5,0.7, 0.2,0.4,0.6,0.3,0.5,0.2,0.4,0.9, 13.8,0.6,0.3,0.5,0.2,0.4,0.6,0.3, 0.5,0.2,0.4,0.6,0.3,0.5,0.2,0.4, 0.6,0.3,0.5,0.2,0.4,0.6,0.3,0.5, 0.2,0.4,0.6,0.3,0.5,0.2,0.4,0.6, 0.3,0.5,0.2,0.4,0.6,0.3,0.5,0.2];
const p26Precip = [0,0,0,0,2.5,1.1,0.7,1.4, 0.5,0.9,0.4,0.7,1.0,0.3,0.6,0.2, 0.5,0.3,0.7,0.4,0.2,0.6,0.3,0.5, 0.4,0.2,0.6,0.3,0.5,0.7,0.2,0.4, 0.6,0.3,0.5,0.2,0.4,0.6,0.9,11.8, 2.0,0.5,0.3,0.6,0.2,0.4,0.7,0.3, 0.5,0.2,0.4,0.6,0.3,0.5,0.2,0.4, 0.6,0.3,0.5,0.2,0.4,0.6,3.7,0.3];
const p27Precip = [0,0,0,0,1.2,1.6,1.0,0.7, 0.9,1.2,0.6,0.5,0.8,0.4,0.3,0.6, 0.4,0.2,0.5,0.7,0.3,0.4,0.2,0.6, 0.3,0.5,0.4,5.3,0.6,0.3,0.5,0.2, 0.4,0.6,0.3,2.5,0.2,0.4,0.6,3.3, 0.5,0.2,0.4,0.6,3.1,0.5,0.2,0.4, 0.6,2.8,0.5,0.2,0.4,0.6,3.6,0.5, 0.2,0.4,0.6,2.9,0.5,0.2,0.4,0.6];
const p28Precip = [0,0,0,0,2.9,1.0,1.2,0.8, 0.6,1.5,0.7,0.4,0.5,0.9,0.3,0.2, 0.6,0.4,0.3,0.5,0.7,0.2,0.4,0.3, 0.5,0.6,0.3,0.4,0.2,0.5,0.3,0.6, 0.4,0.2,0.5,0.3,0.6,0.4,5.4,0.5, 0.3,0.6,0.2,0.4,0.5,0.3,0.6,0.2, 0.4,0.5,0.3,0.6,0.2,0.4,0.5,9.5, 10.5,2.5,0.6,0.3,0.5,0.2,0.4,0.3];
const p29Precip = [0,0,0,0,1.5,1.9,0.9,1.5, 0.8,0.7,1.3,0.6,0.4,0.8,0.5,0.3, 0.7,0.3,0.5,0.2,0.4,0.6,0.3,0.5, 0.2,0.4,0.6,0.3,0.5,0.2,0.4,0.6, 0.3,0.5,0.2,0.4,0.6,0.3,0.5,0.2, 0.4,0.6,0.3,0.5,0.2,0.4,0.6,0.3, 0.5,0.2,0.4,0.6,8.1,0.5,0.2,0.4, 0.6,0.3,0.5,0.2,0.4,0.6,0.3,0.5];
const p30Precip = [0,0,0,0,2.1,1.3,1.1,1.7, 1.0,0.8,0.9,0.7,0.6,0.5,0.4,0.8, 0.3,0.5,0.4,0.6,0.2,0.5,0.3,0.4, 0.6,0.3,0.5,0.2,0.4,0.6,0.3,0.5, 0.2,0.4,3.0,0.3,0.5,0.2,0.4,2.6, 0.3,0.5,0.2,3.4,0.6,0.3,0.5,0.2, 2.4,0.6,0.3,0.5,0.2,3.1,0.6,0.3, 0.5,0.2,0.4,0.6,3.8,0.5,0.2,0.4];

const memberDew = [p01Dew,p02Dew,p03Dew,p04Dew,p05Dew,p06Dew,p07Dew,p08Dew,p09Dew,p10Dew,p11Dew,p12Dew,p13Dew,p14Dew,p15Dew,p16Dew,p17Dew,p18Dew,p19Dew,p20Dew,p21Dew,p22Dew,p23Dew,p24Dew,p25Dew,p26Dew,p27Dew,p28Dew,p29Dew,p30Dew];
const memberPrecip = [p01Precip,p02Precip,p03Precip,p04Precip,p05Precip,p06Precip,p07Precip,p08Precip,p09Precip,p10Precip,p11Precip,p12Precip,p13Precip,p14Precip,p15Precip,p16Precip,p17Precip,p18Precip,p19Precip,p20Precip,p21Precip,p22Precip,p23Precip,p24Precip,p25Precip,p26Precip,p27Precip,p28Precip,p29Precip,p30Precip];

const FONT = 'DejaVu Sans';
function pts(vals) { return vals.map((v, i) => [firstHour + stepHours * i, v]); }
function lineSeries(name, vals, axis, color, width) {
  return { name, type: 'line', yAxisIndex: axis, data: pts(vals), symbol: 'none', showSymbol: false,
    silent: true, animation: false, emphasis: { disabled: true },
    lineStyle: { color, width }, itemStyle: { color } };
}
const series = [];
for (let k = 0; k < memberNames.length; k++) series.push(lineSeries(memberNames[k], memberPrecip[k], 1, memberColors[k], 1));
for (let k = 0; k < memberNames.length; k++) series.push(lineSeries(memberNames[k], memberDew[k], 0, memberColors[k], 1));
const meanS = lineSeries('Ens. mean', meanDew, 0, '#ffffff', 3);
meanS.markLine = { silent: true, symbol: 'none', animation: false, label: { show: false },
  lineStyle: { color: '#ffffff', width: 1.5, type: 'solid' }, data: [{ yAxis: 0 }] };
series.push(meanS);
series.push(lineSeries('Ens. mean', meanPrecip, 1, '#ffffff', 3));
series.push(lineSeries('Control', controlDew, 0, '#0a0aff', 3));
series.push(lineSeries('Control', controlPrecip, 1, '#0a0aff', 3));
series.push(lineSeries('Oper', operDew, 0, '#10d810', 3));
series.push(lineSeries('Oper', operPrecip, 1, '#10d810', 3));

const colA = [], colB = [];
memberNames.forEach((n, i) => (i % 2 === 0 ? colA : colB).push(n));
colA.push('Control', 'Oper'); colB.push('Ens. mean');
const legendBase = { orient: 'vertical', top: 34, padding: 0, itemWidth: 9, itemHeight: 2, itemGap: 2,
  icon: 'rect', selectedMode: false,
  textStyle: { color: '#ffffff', fontSize: 10.5, lineHeight: 13, fontFamily: FONT, padding: [0, 0, 0, -4] } };

const dash = { color: '#404040', type: [4, 4], width: 1 };
const chart = echarts.init(document.getElementById('chart'), null, { renderer: 'canvas' });
chart.setOption({
  backgroundColor: '#000000',
  animation: false,
  textStyle: { fontFamily: FONT },
  grid: { left: 163, right: 40, top: 30, bottom: 61, show: true, borderColor: '#ffffff', borderWidth: 1, outerBoundsMode: 'none', containLabel: false },
  legend: [ Object.assign({ data: colA, left: 0 }, legendBase), Object.assign({ data: colB, left: 55 }, legendBase) ],
  graphic: [
    { type: 'text', left: 156, top: 3, style: { text: titleText, fill: '#ffffff', font: 'bold 16px "DejaVu Sans"' } },
    { type: 'text', left: 120, top: 591, style: { text: footLeft, fill: '#e6e6e6', font: '16px "DejaVu Sans"' } },
    { type: 'text', left: 650, top: 591, style: { text: footRight, fill: '#e6e6e6', font: '16px "DejaVu Sans"' } }
  ],
  xAxis: {
    type: 'value', min: 0, max: 390, interval: 24,
    name: 'Date (UTC)', nameLocation: 'middle', nameGap: 24, nameMoveOverlap: false,
    nameTextStyle: { color: '#ffffff', fontSize: 10.5, fontFamily: FONT },
    axisLine: { show: true, lineStyle: { color: '#ffffff' } }, axisTick: { show: false },
    axisLabel: { color: '#ffffff', fontSize: 10.5, margin: 8, fontFamily: FONT,
      formatter: v => (v % 48 === 0 ? xTickLabels[v / 48] : '') },
    splitLine: { show: true, lineStyle: dash }
  },
  yAxis: [
    { type: 'value', min: -20, max: 15, interval: 2, position: 'left',
      name: '2m dauwpunt (°C)', nameLocation: 'middle', nameGap: 27, nameRotate: 90, nameMoveOverlap: false,
      nameTextStyle: { color: '#ffffff', fontSize: 10.7, fontFamily: FONT },
      axisLine: { show: true, lineStyle: { color: '#ffffff' } },
      axisTick: { show: true, inside: true, length: 3, lineStyle: { color: '#ffffff' } },
      axisLabel: { color: '#ffffff', fontSize: 10.5, margin: 9, fontFamily: FONT, formatter: v => (v === 15 ? '' : String(v)) },
      splitLine: { show: true, lineStyle: dash } },
    { type: 'value', min: 0, max: 40, interval: 10, position: 'right',
      name: 'Neerslag (mm)', nameLocation: 'middle', nameGap: 24, nameRotate: 90, nameMoveOverlap: false,
      nameTextStyle: { color: '#ffffff', fontSize: 11, fontFamily: FONT },
      axisLine: { show: true, lineStyle: { color: '#ffffff' } },
      axisTick: { show: true, inside: true, length: 4, lineStyle: { color: '#ffffff' } },
      minorTick: { show: true, splitNumber: 10, length: 4, lineStyle: { color: '#ffffff' } },
      axisLabel: { color: '#ffffff', fontSize: 10.5, margin: 6, fontFamily: FONT },
      splitLine: { show: false } }
  ],
  series
});
</script>
</body></html>
